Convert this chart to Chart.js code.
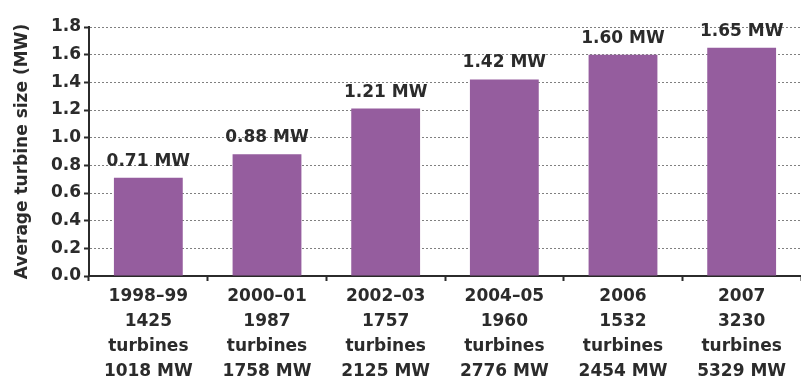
<!DOCTYPE html>
<html>
<head>
<meta charset="utf-8">
<script src="https://cdn.jsdelivr.net/npm/chart.js@4/dist/chart.umd.min.js"></script>
<style>
	html, body { margin: 0; padding: 0; background: #fff; }
	#wrap { width: 801px; height: 387px; }
</style>
</head>
<body>
<div id="wrap"><canvas id="turbineChart"></canvas></div>
<script>

const periods = ['1998–99', '2000–01', '2002–03', '2004–05', '2006', '2007'];
const turbineCounts = [1425, 1987, 1757, 1960, 1532, 3230];
const capacityMW = [1018, 1758, 2125, 2776, 2454, 5329];
const avgSizeMW = [0.71, 0.88, 1.21, 1.42, 1.60, 1.65];

const FONT = 'DejaVu Sans';
const INK = '#2b2b2b';

// value printed above each bar
const barValueLabels = {
	id: 'barValueLabels',
	afterDatasetsDraw(chart) {
		let ctx = chart.ctx;
		let meta = chart.getDatasetMeta(0);
		ctx.save();
		ctx.font = 'bold 17px "' + FONT + '"';
		ctx.fillStyle = INK;
		ctx.textAlign = 'center';
		ctx.textBaseline = 'bottom';
		meta.data.forEach(function(bar, i) {
			ctx.fillText(avgSizeMW[i].toFixed(2) + ' MW', bar.x, bar.y - 8);
		});
		ctx.restore();
	}
};

function addTurbineChart() {

	let ctx = document.getElementById('turbineChart').getContext('2d');
	let labels = periods.map(function(p, i) {
		return [p, String(turbineCounts[i]), 'turbines', capacityMW[i] + ' MW'];
	});

	let myBarChart = new Chart(ctx, {
		type: 'bar',
		data: {
			labels: labels,
			datasets: [{
				data: avgSizeMW,
				backgroundColor: '#955d9e',
				categoryPercentage: 0.58,
				barPercentage: 1.0,
			}],
		},
		options: {
			responsive: true,
			maintainAspectRatio: false,
			animation: false,
			layout: {
				padding: { top: 27, right: 0, bottom: 0, left: 0 },
			},
			plugins: {
				legend: { display: false },
				tooltip: { enabled: false },
			},
			scales: {
				x: {
					grid: {
						offset: true,
						drawOnChartArea: false,
						drawTicks: true,
						tickLength: 5,
						tickColor: INK,
						tickWidth: 2,
					},
					border: { color: INK, width: 2 },
					ticks: {
						color: INK,
						padding: 3,
						maxRotation: 0,
						autoSkip: false,
						font: { family: FONT, size: 17, weight: 'bold', lineHeight: 1.47 },
					},
					afterFit: function(scale) { scale.height = 111; },
				},
				y: {
					min: 0,
					max: 1.8,
					ticks: {
						stepSize: 0.2,
						color: INK,
						padding: 3,
						font: { family: FONT, size: 17, weight: 'bold' },
						callback: function(v) { return v.toFixed(1); },
					},
					grid: {
						color: '#808080',
						lineWidth: 1,
						tickBorderDash: [],
						tickColor: INK,
						tickWidth: 2,
						tickLength: 5,
						drawTicks: true,
					},
					// in v4 the dash here is used for the grid lines
					border: { color: INK, width: 2, dash: [2, 2] },
					title: {
						display: true,
						text: 'Average turbine size (MW)',
						color: INK,
						font: { family: FONT, size: 17, weight: 'bold' },
						padding: { top: 12, bottom: 0 },
					},
					afterFit: function(scale) { scale.width = 89; },
				},
			},
		},
		plugins: [barValueLabels],
	});

}

addTurbineChart();

</script>
</body>
</html>
